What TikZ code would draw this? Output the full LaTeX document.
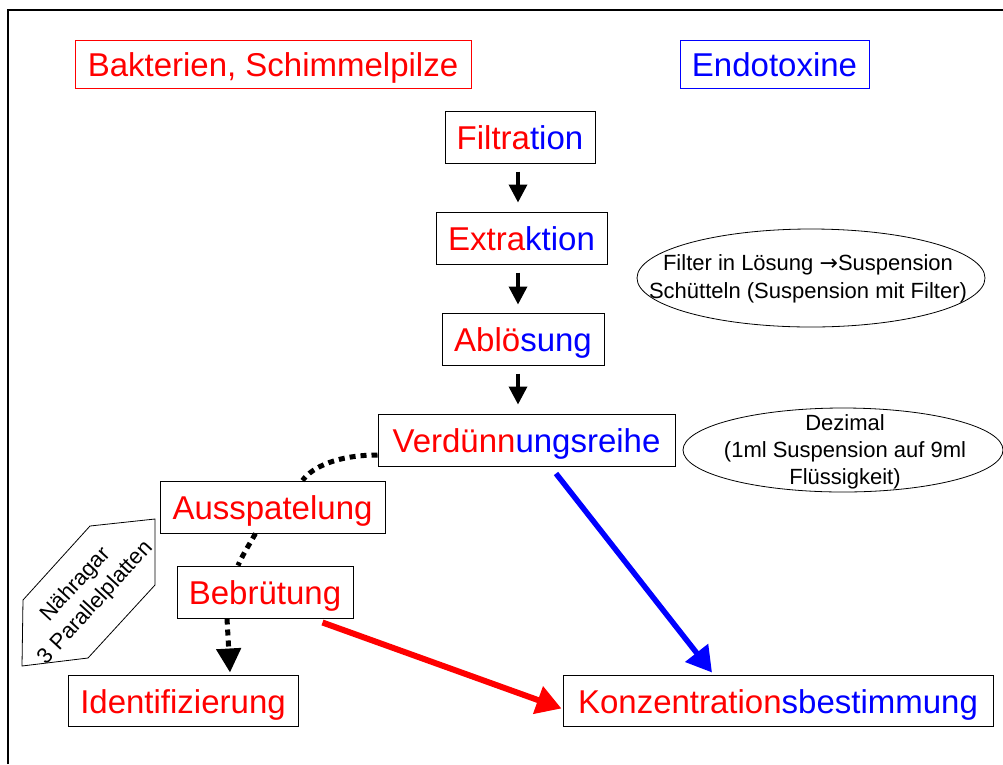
\documentclass[tikz,border=0pt]{standalone}
\usepackage{fontspec}
\setmainfont{Liberation Sans}
\newfontfamily\symfont{DejaVu Sans}
\usetikzlibrary{arrows.meta,shapes.geometric}
\definecolor{pred}{RGB}{255,0,0}
\definecolor{pblue}{RGB}{0,0,255}
\newcommand{\rd}[1]{\textcolor{pred}{#1}}
\newcommand{\bl}[1]{\textcolor{pblue}{#1}}
\begin{document}
\begin{tikzpicture}[x=1pt,y=-1pt,
  lbl/.style={draw=black, line width=1pt, inner sep=0pt, text height=31pt, text depth=6pt,
    font=\fontsize{33}{40}\selectfont, minimum height=52pt},
  oval/.style={draw=black, line width=0.8pt, ellipse, inner sep=0pt},
  notetext/.style={align=center, inner sep=0pt, font=\fontsize{22}{28}\selectfont},
  flow/.style={line width=3.5pt, -{Triangle[length=18pt,width=18pt]}, shorten <=8pt, shorten >=9pt},
  dots/.style={line width=5pt, dash pattern=on 6pt off 5pt},
  bigarrow/.style={line width=5.5pt, -{Triangle[length=25pt,width=28pt]}}
]
\useasboundingbox (0,0) rectangle (1003,764);
% frame
\draw[line width=2pt] (8,764) -- (8,10) -- (1003,10);

% headers
\node[lbl, draw=pred, line width=0.8pt, minimum width=396pt, minimum height=48pt, text=pred] (bak) at (273,64) {Bakterien, Schimmelpilze};
\node[lbl, draw=pblue, line width=0.8pt, minimum width=189pt, minimum height=48pt, text=pblue] (endo) at (774.5,64) {Endotoxine};

% main chain
\node[lbl, minimum width=150pt] (filt) at (520,137) {\rd{Filtra}\bl{tion}};
\node[lbl, minimum width=171pt] (extr) at (521.5,238) {\rd{Extra}\bl{ktion}};
\node[lbl, minimum width=162pt] (abl) at (523,339) {\rd{Ablö}\bl{sung}};
\node[lbl, minimum width=297pt] (verd) at (526.5,440) {\rd{Verdünn}\bl{ungsreihe}};
\node[lbl, minimum width=225pt] (aus) at (272.5,507) {\rd{Ausspatelung}};
\node[lbl, minimum width=176pt] (beb) at (265,592) {\rd{Bebrütung}};
\node[lbl, minimum width=230pt, minimum height=51pt] (ident) at (183,700.5) {\rd{Identifizierung}};
\node[lbl, minimum width=430pt, minimum height=51pt] (konz) at (778,700.5) {\rd{Konzentration}\bl{sbestimmung}};

% notes
\node[oval, minimum width=348pt, minimum height=98pt] (e1) at (811,278) {};
\node[notetext] (e1t) at (808,279) {Filter in Lösung {\symfont →}Suspension\\Schütteln (Suspension mit Filter)};
\node[oval, minimum width=320pt, minimum height=84pt] (e2) at (843,450) {};
\node[notetext, font=\fontsize{22}{27}\selectfont] (e2t) at (845,452) {Dezimal\\(1ml Suspension auf 9ml\\Flüssigkeit)};

% hexagon note
\draw[line width=0.8pt] (23,600) -- (90,526) -- (155,519) -- (155,585) -- (88,658) -- (22,666) -- cycle;
\node[notetext, font=\fontsize{22}{27}\selectfont, rotate=47.5] (naehr) at (86,594) {Nähragar\\3 Parallelplatten};

% black arrows
\draw[flow] ([xshift=-2pt]filt.south) -- ([xshift=-2pt]filt.south |- extr.north);
\draw[flow, shorten >=8pt] ([xshift=-3.5pt]extr.south) -- ([xshift=-3.5pt]extr.south |- abl.north);
\draw[flow] ([xshift=-5pt]abl.south) -- ([xshift=-5pt]abl.south |- verd.north);

% dotted connectors
\draw[dots] ([yshift=-15pt]verd.west) .. controls (338,455) and (312,467) .. ([xshift=30pt]aus.north);
\draw[dots] ([xshift=-17pt]aus.south) .. controls (249,545) and (242,556) .. ([xshift=-27pt]beb.north);
\draw[dots, -{Triangle[length=24pt,width=24pt]}] ([xshift=-38pt]beb.south) -- ([xshift=47pt,yshift=2pt]ident.north);

% coloured arrows
\draw[bigarrow, pblue] ([xshift=29.5pt,yshift=-7pt]verd.south) -- ([xshift=-66pt,yshift=2pt]konz.north);
\draw[bigarrow, pred, line width=6pt] ([xshift=-31pt,yshift=-4pt]beb.south east) -- ([xshift=-1pt,yshift=-8pt]konz.west);
\end{tikzpicture}
\end{document}
